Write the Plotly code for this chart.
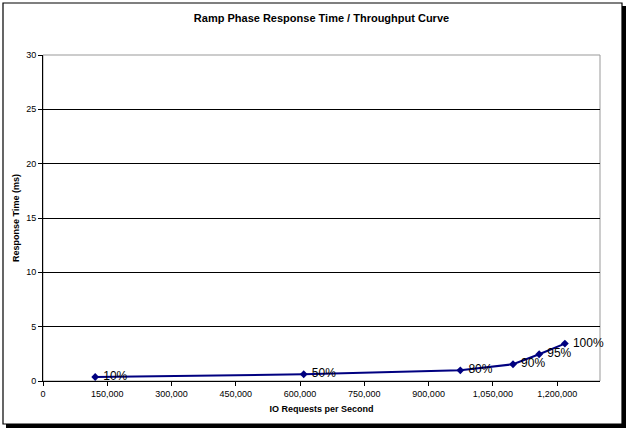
import plotly.graph_objects as go

iops = [121800, 608500, 974000, 1097000, 1158000, 1218000]
resp_ms = [0.37, 0.62, 0.98, 1.54, 2.46, 3.44]
labels = ["10%", "50%", "80%", "90%", "95%", "100%"]
x_ticks = [0, 150000, 300000, 450000, 600000, 750000, 900000, 1050000, 1200000]
x_tick_text = ["0", "150,000", "300,000", "450,000", "600,000", "750,000", "900,000", "1,050,000", "1,200,000"]
y_ticks = [0, 5, 10, 15, 20, 25, 30]

W, H = 630, 430
L, R, T, B = 43, 30, 55, 49
pw, ph = W - L - R, H - T - B

def px(x):
    return (x - L) / pw

def py(y):
    return 1 - (y - T) / ph

FONT = "Arial, Liberation Sans, sans-serif"

fig = go.Figure()
fig.add_trace(go.Scatter(
    x=iops, y=resp_ms, mode="lines+markers+text",
    text=[" " + s for s in labels], textposition="middle right",
    textfont=dict(family=FONT, size=12, color="#000000"),
    line=dict(color="#000080", width=2),
    marker=dict(symbol="diamond", size=6, color="#000080"),
    cliponaxis=False, showlegend=False,
))

shapes = [
    dict(type="rect", xref="paper", yref="paper",
         x0=px(6), x1=px(626), y0=py(428), y1=py(6),
         line=dict(width=0), fillcolor="#000000", layer="below"),
    dict(type="rect", xref="paper", yref="paper",
         x0=px(3), x1=px(622), y0=py(424), y1=py(3),
         line=dict(color="#000000", width=1.2), fillcolor="#ffffff", layer="below"),
    dict(type="rect", xref="paper", yref="paper", x0=0, x1=1, y0=0, y1=1,
         line=dict(color="#999999", width=1), layer="below"),
]

fig.update_layout(
    width=W, height=H,
    margin=dict(l=L, r=R, t=T, b=B),
    paper_bgcolor="#ffffff", plot_bgcolor="rgba(0,0,0,0)",
    font=dict(family=FONT, size=9, color="#000000"),
    title=dict(text="<b>Ramp Phase Response Time / Throughput Curve</b>",
               x=0.5, xref="paper", xanchor="center", y=1 - 18 / H, yanchor="middle",
               font=dict(family=FONT, size=11, color="#000000")),
    shapes=shapes,
    xaxis=dict(range=[0, 1300000], tickvals=x_ticks, ticktext=x_tick_text,
               showgrid=False, zeroline=False, showline=True, linecolor="#000000", linewidth=1,
               ticks="outside", ticklen=4, tickcolor="#000000",
               tickfont=dict(family=FONT, size=9, color="#000000"),
               title=dict(text="<b>IO Requests per Second</b>", standoff=7,
                          font=dict(family=FONT, size=9, color="#000000"))),
    yaxis=dict(range=[0, 30], tickvals=y_ticks,
               showgrid=True, gridcolor="#000000", gridwidth=1,
               zeroline=False, showline=True, linecolor="#000000", linewidth=1,
               ticks="outside", ticklen=4, tickcolor="#000000",
               tickfont=dict(family=FONT, size=9, color="#000000"),
               title=dict(text="<b>Response Time (ms)</b>", standoff=5,
                          font=dict(family=FONT, size=9, color="#000000"))),
)

fig.write_html("out.html")
